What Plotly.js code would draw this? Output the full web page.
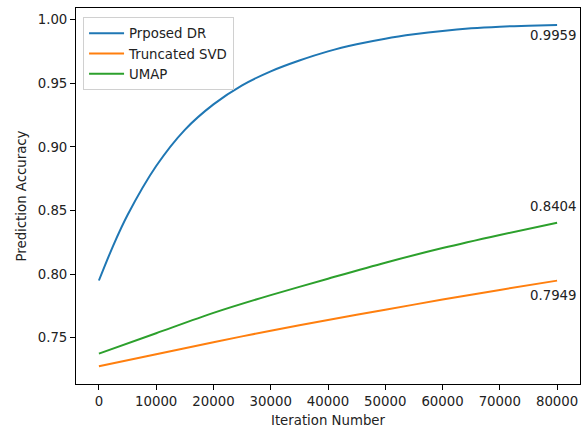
<!DOCTYPE html>
<html>
<head>
<meta charset="utf-8">
<script src="https://cdn.plot.ly/plotly-3.0.1.min.js"></script>
<style>html,body{margin:0;padding:0;background:#fff;}#chart{width:588px;height:428px;}</style>
</head>
<body>
<div id="chart"></div>
<script>
// Data
const iterBlue = [0, 2500, 5000, 10000, 15000, 20000, 25000, 30000, 35000, 40000, 45000, 50000, 55000, 60000, 65000, 70000, 75000, 80000];
const proposedDR = [0.795, 0.8225, 0.8465, 0.885, 0.9135, 0.9335, 0.9485, 0.9595, 0.968, 0.9752, 0.9808, 0.9852, 0.9886, 0.9913, 0.9933, 0.9946, 0.9954, 0.9959];
const iterLinear = [0, 10000, 20000, 30000, 40000, 50000, 60000, 70000, 80000];
const truncatedSVD = [0.7275, 0.737, 0.7465, 0.7555, 0.764, 0.772, 0.780, 0.7876, 0.7949];
const umap = [0.7375, 0.7535, 0.7695, 0.7835, 0.7964, 0.809, 0.8205, 0.8308, 0.8404];
const seriesNames = ["Prposed DR", "Truncated SVD", "UMAP"];
const endLabels = ["0.9959", "0.7949", "0.8404"];
const xTicks = [0, 10000, 20000, 30000, 40000, 50000, 60000, 70000, 80000];
const yTicks = [0.75, 0.80, 0.85, 0.90, 0.95, 1.00];

const font = {family: "DejaVu Sans", size: 13.3, color: "#222"};
const colors = ["#1f77b4", "#ff7f0e", "#2ca02c"];

const traces = [
  {x: iterBlue, y: proposedDR, name: seriesNames[0], mode: "lines", line: {color: colors[0], width: 2, shape: "spline", smoothing: 0.8}},
  {x: iterLinear, y: truncatedSVD, name: seriesNames[1], mode: "lines", line: {color: colors[1], width: 2, shape: "spline", smoothing: 0.8}},
  {x: iterLinear, y: umap, name: seriesNames[2], mode: "lines", line: {color: colors[2], width: 2, shape: "spline", smoothing: 0.8}}
];

const lastX = iterBlue[iterBlue.length - 1];
const annotations = [
  {x: lastX, y: proposedDR[proposedDR.length - 1], text: endLabels[0], yshift: -10},
  {x: lastX, y: truncatedSVD[truncatedSVD.length - 1], text: endLabels[1], yshift: -15},
  {x: lastX, y: umap[umap.length - 1], text: endLabels[2], yshift: 16}
].map(a => Object.assign(a, {xref: "x", yref: "y", showarrow: false, xanchor: "center", yanchor: "middle", xshift: -4, font: font}));

const axisCommon = {
  showline: true, linecolor: "#000", linewidth: 1, mirror: true,
  ticks: "outside", ticklen: 5, tickwidth: 1, tickcolor: "#000",
  showgrid: false, zeroline: false, tickfont: font
};

const layout = {
  width: 588, height: 428,
  margin: {l: 76, r: 8, t: 8, b: 44},
  paper_bgcolor: "#fff", plot_bgcolor: "#fff",
  font: font,
  showlegend: true,
  legend: {x: 0.014, y: 0.976, xanchor: "left", yanchor: "top", bgcolor: "rgba(255,255,255,0.8)", bordercolor: "#d0d0d0", borderwidth: 1, font: font, itemwidth: 35, tracegroupgap: 0},
  xaxis: Object.assign({}, axisCommon, {
    range: [-4000, 84000], tickvals: xTicks, ticktext: xTicks.map(String),
    title: {text: "Iteration Number", font: font, standoff: 9}
  }),
  yaxis: Object.assign({}, axisCommon, {
    range: [0.7136, 1.0093], tickvals: yTicks, ticktext: yTicks.map(v => v.toFixed(2)),
    title: {text: "Prediction Accuracy", font: font, standoff: 8}
  }),
  annotations: annotations
};

Plotly.newPlot("chart", traces, layout, {displayModeBar: false, staticPlot: true});
</script>
</body>
</html>
